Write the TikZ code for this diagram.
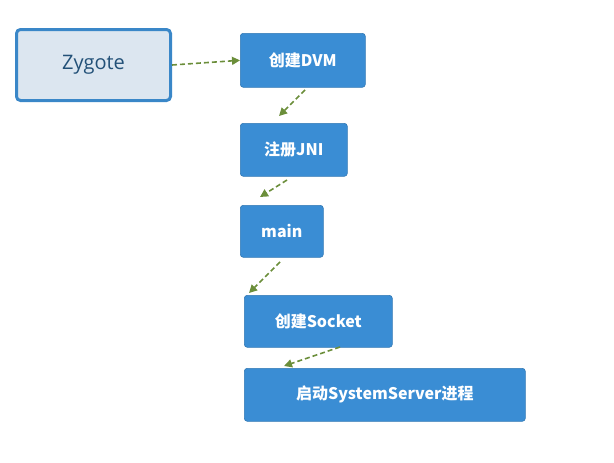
\documentclass[tikz,border=0pt]{standalone}
\usepackage{fontspec}
\setmainfont{Open Sans}
\newfontfamily\cjk{Noto Sans CJK SC}
\usetikzlibrary{arrows.meta}
\definecolor{bluebox}{HTML}{3A8DD4}
\definecolor{zfill}{HTML}{DCE6F0}
\definecolor{zline}{HTML}{3A87C8}
\definecolor{arr}{HTML}{6B8E3A}
\begin{document}
\begin{tikzpicture}[x=1pt,y=-1pt,
  stepbox/.style={draw=bluebox!85!black,line width=0.6pt,fill=bluebox,rounded corners=3pt,text=white,font=\cjk\bfseries\fontsize{16}{18}\selectfont,anchor=north west,inner sep=0pt,align=center},
  flow/.style={draw=arr,line width=1.6pt,dash pattern=on 5pt off 3pt,-{Triangle[length=8pt,width=8pt]}}]
\useasboundingbox (0,0) rectangle (614,463);
\node[draw=zline,line width=3pt,fill=zfill,rounded corners=4pt,anchor=north west,minimum width=154pt,minimum height=71pt,inner sep=0pt,text=zline!60!black,font=\fontsize{20}{24}\selectfont] (z) at (15,28) {Zygote};
\node[stepbox,minimum width=125pt,minimum height=54pt] (a) at (240,33) {创建DVM};
\node[stepbox,minimum width=107pt,minimum height=53pt] (b) at (240,123) {注册JNI};
\node[stepbox,minimum width=83pt,minimum height=52pt] (c) at (240,205) {main};
\node[stepbox,minimum width=148pt,minimum height=52pt] (d) at (244,295) {创建Socket};
\node[stepbox,minimum width=281pt,minimum height=53pt] (e) at (244,368) {启动SystemServer进程};
\coordinate (a1) at (305,90); \coordinate (a2) at (279,116);
\coordinate (b1) at (287,180); \coordinate (b2) at (260,197);
\coordinate (c1) at (280,262); \coordinate (c2) at (249,293);
\coordinate (d1) at (340,347); \coordinate (d2) at (284,366);
\draw[flow] (z.east) -- (a.west);
\draw[flow] (a1) -- (a2);
\draw[flow] (b1) -- (b2);
\draw[flow] (c1) -- (c2);
\draw[flow] (d1) -- (d2);
\end{tikzpicture}
\end{document}
